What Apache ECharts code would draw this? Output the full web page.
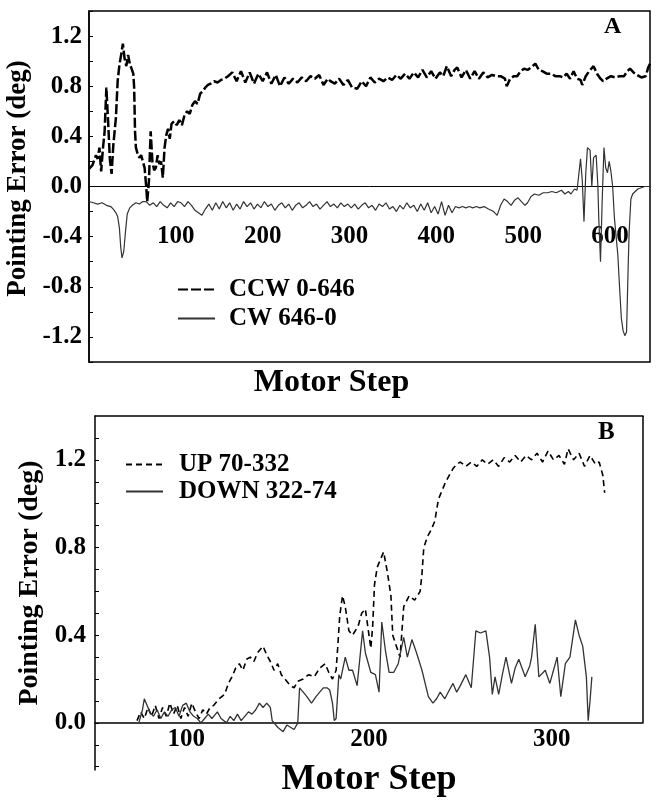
<!DOCTYPE html>
<html>
<head>
<meta charset="utf-8">
<script src="https://cdn.jsdelivr.net/npm/echarts@6/dist/echarts.min.js"></script>
<style>
  html, body { margin: 0; padding: 0; background: #fff; }
  #chart { width: 659px; height: 804px; }
</style>
</head>
<body>
<div id="chart"></div>
<script>
// panel A: [motor step, pointing error]
const ccwPoints = [[0,0.14],[4,0.17],[8,0.25],[10,0.22],[12,0.31],[14,0.12],[16,0.30],[18,0.44],[20,0.79],[22,0.52],[24,0.22],[26,0.10],[28,0.33],[31,0.55],[33,0.84],[35,0.97],[37,1.05],[39,1.14],[41,1.02],[43,0.96],[45,1.05],[47,0.98],[49,0.94],[51,0.90],[52,0.79],[53,0.44],[54,0.31],[56,0.26],[58,0.23],[60,0.25],[62,0.20],[64,0.15],[66,-0.01],[67,-0.12],[69,0.04],[71,0.44],[73,0.20],[75,0.13],[77,0.15],[79,0.25],[81,0.18],[83,0.20],[85,0.07],[87,0.31],[89,0.41],[91,0.46],[93,0.38],[95,0.50],[98,0.52],[101,0.49],[104,0.53],[107,0.49],[110,0.57],[113,0.60],[116,0.58],[119,0.65],[122,0.68],[125,0.66],[128,0.74],[131,0.76],[134,0.79],[137,0.81],[140,0.82],[144,0.84],[148,0.83],[152,0.85],[156,0.86],[160,0.88],[165,0.91],[170,0.84],[175,0.92],[180,0.83],[185,0.91],[190,0.82],[195,0.90],[200,0.84],[205,0.91],[210,0.82],[215,0.89],[220,0.80],[225,0.87],[230,0.82],[235,0.86],[240,0.83],[245,0.87],[250,0.84],[255,0.88],[260,0.86],[265,0.89],[270,0.81],[275,0.86],[278,0.84],[283,0.82],[288,0.86],[293,0.81],[298,0.85],[303,0.79],[309,0.78],[314,0.84],[319,0.80],[324,0.87],[329,0.83],[334,0.86],[339,0.84],[344,0.87],[349,0.85],[354,0.89],[359,0.86],[364,0.90],[369,0.86],[374,0.91],[379,0.87],[384,0.93],[389,0.87],[394,0.92],[399,0.86],[404,0.91],[408,0.88],[412,0.96],[417,0.88],[421,0.93],[424,0.95],[429,0.87],[434,0.93],[439,0.86],[444,0.92],[449,0.86],[454,0.91],[459,0.87],[464,0.89],[469,0.88],[474,0.88],[479,0.86],[481,0.80],[485,0.86],[489,0.88],[493,0.88],[497,0.92],[501,0.94],[505,0.93],[509,0.95],[514,0.98],[518,0.93],[522,0.92],[527,0.90],[532,0.90],[537,0.88],[542,0.88],[546,0.87],[550,0.90],[554,0.86],[558,0.92],[562,0.86],[566,0.85],[568,0.81],[572,0.88],[576,0.92],[581,0.96],[585,0.90],[589,0.86],[592,0.84],[596,0.86],[601,0.88],[606,0.87],[611,0.88],[616,0.88],[620,0.92],[623,0.94],[627,0.91],[631,0.89],[636,0.87],[641,0.88],[644,0.95],[646,0.98]];

const cwPoints = [[0,-0.12],[5,-0.13],[10,-0.14],[15,-0.13],[20,-0.15],[25,-0.16],[28,-0.18],[31,-0.21],[33,-0.24],[35,-0.33],[36.5,-0.48],[38,-0.57],[40,-0.52],[42,-0.36],[44,-0.22],[47,-0.17],[50,-0.15],[54,-0.13],[58,-0.14],[62,-0.12],[66,-0.12],[70,-0.15],[74,-0.13],[78,-0.16],[82,-0.12],[86,-0.15],[90,-0.17],[94,-0.13],[98,-0.16],[102,-0.12],[106,-0.13],[110,-0.16],[114,-0.12],[118,-0.15],[122,-0.19],[126,-0.21],[130,-0.23],[134,-0.18],[138,-0.14],[142,-0.19],[146,-0.13],[150,-0.18],[154,-0.12],[158,-0.17],[162,-0.13],[166,-0.19],[170,-0.14],[174,-0.18],[178,-0.12],[182,-0.16],[186,-0.13],[190,-0.18],[194,-0.14],[198,-0.17],[202,-0.12],[206,-0.16],[210,-0.14],[214,-0.19],[218,-0.15],[222,-0.13],[226,-0.17],[230,-0.14],[234,-0.19],[238,-0.15],[242,-0.13],[246,-0.17],[250,-0.15],[254,-0.12],[258,-0.16],[262,-0.14],[266,-0.18],[270,-0.15],[274,-0.12],[278,-0.16],[282,-0.14],[286,-0.17],[290,-0.13],[294,-0.16],[298,-0.14],[302,-0.17],[306,-0.14],[310,-0.18],[314,-0.15],[318,-0.13],[322,-0.17],[326,-0.15],[330,-0.19],[334,-0.14],[338,-0.16],[342,-0.13],[346,-0.18],[350,-0.16],[354,-0.20],[358,-0.15],[362,-0.18],[366,-0.13],[370,-0.17],[374,-0.15],[378,-0.20],[382,-0.14],[386,-0.19],[390,-0.13],[394,-0.21],[398,-0.16],[402,-0.22],[406,-0.12],[410,-0.23],[414,-0.15],[418,-0.21],[422,-0.16],[426,-0.17],[430,-0.16],[434,-0.17],[438,-0.16],[442,-0.17],[446,-0.16],[450,-0.17],[455,-0.16],[460,-0.18],[466,-0.20],[470,-0.23],[474,-0.15],[478,-0.10],[482,-0.12],[486,-0.15],[490,-0.11],[494,-0.09],[498,-0.12],[502,-0.15],[505,-0.13],[509,-0.08],[513,-0.06],[518,-0.07],[523,-0.05],[528,-0.05],[533,-0.04],[538,-0.05],[544,-0.03],[548,-0.06],[552,-0.04],[555,-0.06],[559,-0.02],[562,-0.03],[566,0.22],[568,0.05],[570,-0.28],[572,0.10],[574,0.31],[577,0.29],[579,0.00],[581,0.23],[584,0.25],[586,0.00],[587,-0.25],[589,-0.60],[591,-0.10],[593,0.31],[595,0.15],[597,0.11],[599,0.20],[601,0.12],[603,0.00],[605,-0.25],[607,-0.40],[609,-0.55],[611,-0.81],[613,-1.05],[615,-1.15],[617,-1.19],[619,-1.16],[621,-0.60],[622,-0.36],[624,-0.10],[626,-0.06],[632,-0.02],[640,0.00],[646,0.00]];

// panel B
const upPoints = [[73,0.01],[75,0.05],[77,0.02],[79,0.07],[81,0.03],[83,0.08],[85,0.02],[87,0.07],[89,0.03],[91,0.09],[93,0.04],[95,0.08],[97,0.02],[99,0.07],[101,0.03],[103,0.09],[105,0.05],[107,0.02],[109,0.06],[111,0.04],[113,0.07],[115,0.08],[118,0.11],[121,0.13],[123,0.18],[125,0.21],[127,0.25],[129,0.27],[131,0.24],[133,0.29],[135,0.30],[137,0.28],[139,0.32],[142,0.35],[144,0.31],[146,0.28],[148,0.24],[150,0.27],[152,0.22],[155,0.19],[157,0.17],[159,0.16],[161,0.19],[164,0.20],[167,0.22],[170,0.21],[173,0.25],[176,0.27],[178,0.23],[180,0.20],[182,0.24],[183,0.36],[184,0.49],[185.5,0.58],[187,0.53],[189,0.42],[191,0.40],[194,0.44],[196,0.50],[198,0.52],[199,0.46],[201,0.34],[202,0.44],[203,0.63],[204.5,0.71],[206,0.74],[208,0.78],[210,0.69],[212,0.58],[213,0.40],[215,0.35],[217,0.30],[219,0.53],[222,0.58],[225,0.56],[228,0.60],[229,0.68],[230,0.80],[232,0.85],[234,0.88],[236,0.92],[238,1.02],[240,1.06],[242,1.10],[244,1.13],[246,1.16],[248,1.18],[250,1.19],[253,1.17],[256,1.19],[259,1.17],[262,1.20],[265,1.18],[268,1.20],[271,1.17],[274,1.21],[277,1.19],[280,1.22],[283,1.19],[286,1.22],[289,1.20],[292,1.23],[295,1.19],[298,1.24],[301,1.20],[304,1.22],[307,1.18],[309,1.25],[312,1.20],[315,1.23],[318,1.17],[321,1.22],[324,1.18],[326,1.19],[328,1.13],[329,1.05]];

const downPoints = [[74,0.00],[76,0.06],[77,0.11],[79,0.07],[80,0.05],[82,0.03],[84,0.06],[86,0.02],[88,0.05],[90,0.03],[92,0.06],[94,0.07],[96,0.03],[98,0.08],[100,0.09],[102,0.05],[104,0.03],[106,0.02],[108,0.00],[110,0.02],[112,0.04],[114,0.02],[117,0.05],[119,0.02],[122,0.00],[124,0.03],[126,0.01],[128,0.04],[130,0.01],[132,0.03],[134,0.05],[136,0.04],[138,0.06],[140,0.09],[142,0.07],[144,0.09],[146,0.07],[147,0.01],[150,-0.02],[153,-0.04],[155,-0.01],[157,-0.02],[159,-0.03],[161,0.00],[162,0.16],[164,0.14],[166,0.12],[168.5,0.09],[171,0.12],[173,0.14],[175,0.16],[177,0.16],[178.5,0.15],[180,0.09],[181,0.01],[182,0.02],[183.5,0.22],[184.5,0.20],[187,0.30],[189,0.24],[191,0.24],[193.5,0.17],[196.5,0.42],[198,0.32],[201,0.23],[203.5,0.22],[205.5,0.14],[207,0.46],[209,0.33],[211,0.23],[213.5,0.23],[216,0.27],[219,0.39],[221,0.30],[223.5,0.38],[226,0.32],[229,0.24],[232.5,0.12],[235,0.09],[237,0.11],[239,0.14],[241.5,0.11],[244,0.15],[246,0.18],[248,0.14],[250,0.17],[253,0.22],[256,0.16],[258.5,0.42],[261,0.41],[264,0.42],[266,0.30],[267.5,0.13],[269,0.21],[271,0.13],[273,0.22],[275,0.30],[278,0.18],[280,0.25],[282,0.29],[285.5,0.21],[288,0.26],[289,0.30],[291,0.45],[293,0.21],[296.5,0.24],[299,0.18],[301,0.24],[303,0.30],[305,0.12],[307.5,0.27],[310,0.30],[313,0.47],[315,0.40],[317,0.35],[319,0.21],[320,0.01],[321,0.10],[322,0.21]];

const xLabelsA = [100, 200, 300, 400, 500, 600];
const yLabelsA = [-1.2, -0.8, -0.4, 0, 0.4, 0.8, 1.2];
const xLabelsB = [100, 200, 300];
const yLabelsB = [0, 0.4, 0.8, 1.2];
const yTicksB = [-0.2, -0.1, 0, 0.1, 0.2, 0.3, 0.4, 0.5, 0.6, 0.7, 0.8, 0.9, 1.0, 1.1, 1.2, 1.3];

const serif = 'Liberation Serif';
const txt = (size) => ({ fontFamily: serif, fontSize: size, fontWeight: 'bold', color: '#000' });
const black = { color: '#000', width: 1.5 };

const initChart = () => {
  const chart = echarts.init(document.getElementById('chart'));
  chart.setOption({
    animation: false,
    title: [
      { text: 'A', left: 604, top: 15, padding: 0, textStyle: txt(24) },
      { text: 'B', left: 598, top: 420, padding: 0, textStyle: txt(25) }
    ],
    legend: [
      {
        data: ['CCW 0-646', 'CW 646-0'], orient: 'vertical', left: 172, top: 272,
        itemWidth: 37, itemHeight: 14, itemGap: 4, itemStyle: { opacity: 0 },
        textStyle: Object.assign(txt(25), { padding: [0, 0, 0, 9] })
      },
      {
        data: ['UP 70-332', 'DOWN 322-74'], orient: 'vertical', left: 120, top: 447,
        itemWidth: 37, itemHeight: 14, itemGap: 2, itemStyle: { opacity: 0 },
        textStyle: Object.assign(txt(25), { padding: [0, 0, 0, 11] })
      }
    ],
    grid: [
      { left: 89, right: 9, top: 11, bottom: 442, show: true, borderColor: '#000', borderWidth: 1.5, outerBoundsMode: 'none' },
      { left: 95, right: 16, top: 416, bottom: 34, outerBoundsMode: 'none' }
    ],
    xAxis: [
      {
        // drawn on the zero line of panel A (zero sits 175.5px above the grid bottom)
        gridIndex: 0, type: 'value', min: 0, max: 646, position: 'bottom', offset: -175.5,
        axisLine: { onZero: false, lineStyle: { color: '#000', width: 1 } },
        axisTick: { show: false }, splitLine: { show: false },
        axisLabel: { customValues: xLabelsA, margin: 38, ...txt(25) },
        name: 'Motor Step', nameLocation: 'middle', nameGap: 180,
        nameTextStyle: Object.assign(txt(32), { padding: [0, 76, 0, 0] })
      },
      {
        gridIndex: 1, type: 'value', min: 50, max: 350, position: 'bottom', offset: -47,
        axisLine: { onZero: false, lineStyle: black },
        axisTick: { show: false }, splitLine: { show: false },
        axisLabel: { customValues: xLabelsB, margin: 4, ...txt(25) },
        name: 'Motor Step', nameLocation: 'middle', nameGap: 39, nameTextStyle: txt(36)
      },
      {
        gridIndex: 1, type: 'value', min: 50, max: 350, position: 'top',
        axisLine: { show: true, onZero: false, lineStyle: black },
        axisTick: { show: false }, axisLabel: { show: false }, splitLine: { show: false }
      }
    ],
    yAxis: [
      {
        gridIndex: 0, type: 'value', min: -1.4, max: 1.4, interval: 0.2,
        axisLine: { show: true, onZero: false, lineStyle: black },
        axisTick: { show: true, inside: true, length: 4, lineStyle: { color: '#000' } },
        splitLine: { show: false },
        axisLabel: { customValues: yLabelsA, formatter: v => v.toFixed(1), margin: 7, ...txt(25) },
        name: 'Pointing Error (deg)', nameLocation: 'middle', nameGap: 46,
        nameTextStyle: Object.assign(txt(27), { padding: [0, 0, 0, 16] })
      },
      {
        gridIndex: 1, type: 'value', min: -0.215, max: 1.4,
        axisLine: { show: true, onZero: false, lineStyle: black },
        axisTick: { show: true, inside: true, length: 4, customValues: yTicksB, lineStyle: { color: '#000' } },
        splitLine: { show: false },
        axisLabel: { customValues: yLabelsB, formatter: v => v.toFixed(1), margin: 9, ...txt(25) },
        name: 'Pointing Error (deg)', nameLocation: 'middle', nameGap: 46,
        nameTextStyle: Object.assign(txt(28), { padding: [0, 0, 0, 20] })
      }
    ],
    series: [
      {
        name: 'CCW 0-646', type: 'line', xAxisIndex: 0, yAxisIndex: 0, data: ccwPoints,
        symbol: 'none', color: '#000', lineStyle: { color: '#000', width: 2.5, type: [10, 3] }
      },
      {
        name: 'CW 646-0', type: 'line', xAxisIndex: 0, yAxisIndex: 0, data: cwPoints,
        symbol: 'none', color: '#333', lineStyle: { color: '#333', width: 1.2 }
      },
      {
        name: 'UP 70-332', type: 'line', xAxisIndex: 1, yAxisIndex: 1, data: upPoints,
        symbol: 'none', color: '#000', lineStyle: { color: '#000', width: 1.6, type: [6, 4] }
      },
      {
        name: 'DOWN 322-74', type: 'line', xAxisIndex: 1, yAxisIndex: 1, data: downPoints,
        symbol: 'none', color: '#333', lineStyle: { color: '#333', width: 1.3 },
        markLine: {
          silent: true, symbol: 'none', label: { show: false },
          lineStyle: { color: '#000', width: 1.5, type: 'solid' },
          data: [[{ coord: [350, 0] }, { coord: [350, 1.4] }]]
        }
      }
    ]
  });
};

window.addEventListener('load', () => {
  initChart();
});
</script>
</body>
</html>
